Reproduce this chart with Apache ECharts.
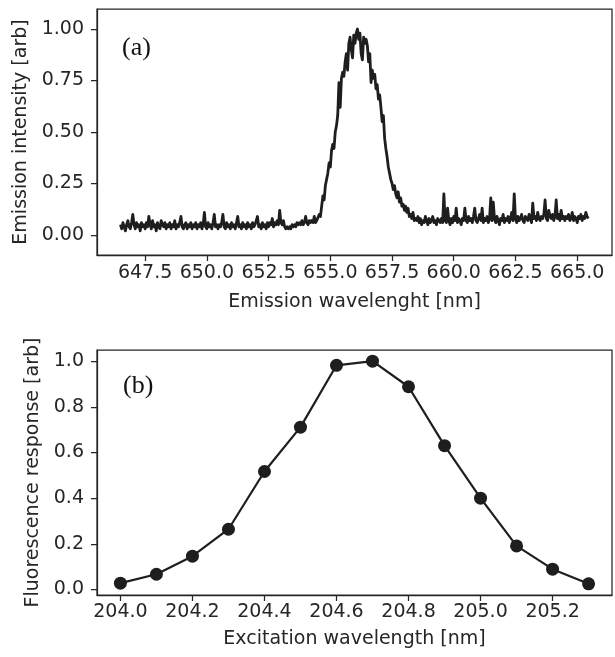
<!DOCTYPE html>
<html>
<head>
<meta charset="utf-8">
<script src="https://cdn.jsdelivr.net/npm/echarts@6/dist/echarts.min.js"></script>
<style>
html,body{margin:0;padding:0;background:#fff;}
#chart{width:615px;height:657px;}
</style>
</head>
<body>
<div id="chart"></div>
<script>
// ---- Panel (a): emission spectrum ----
const emissionStart = 646.5;   // nm, first sample
const emissionStep = 0.05;     // nm, sampling step
const emissionIntensity = [
  // 646.50 - 647.45
  0.05,0.03,0.06,0.04,0.02,0.05,0.07,0.04,0.03,0.06,0.10,0.05,0.03,0.06,0.04,0.05,0.02,0.06,0.04,0.05,
  // 647.50 - 648.45
  0.03,0.06,0.04,0.09,0.05,0.03,0.07,0.04,0.05,0.02,0.06,0.04,0.03,0.07,0.05,0.04,0.06,0.03,0.05,0.04,
  // 648.50 - 649.45
  0.06,0.03,0.05,0.04,0.07,0.03,0.05,0.04,0.06,0.09,0.04,0.03,0.05,0.06,0.03,0.05,0.04,0.06,0.03,0.05,
  // 649.50 - 650.45
  0.04,0.06,0.03,0.05,0.04,0.06,0.03,0.05,0.11,0.04,0.03,0.06,0.04,0.05,0.03,0.06,0.10,0.04,0.05,0.03,
  // 650.50 - 651.45
  0.05,0.04,0.06,0.10,0.04,0.03,0.06,0.04,0.05,0.03,0.06,0.04,0.05,0.03,0.06,0.09,0.04,0.05,0.03,0.06,
  // 651.50 - 652.45
  0.04,0.05,0.03,0.06,0.04,0.05,0.03,0.06,0.04,0.05,0.07,0.09,0.04,0.05,0.03,0.06,0.04,0.05,0.03,0.06,
  // 652.50 - 653.45
  0.04,0.06,0.05,0.08,0.04,0.06,0.05,0.07,0.05,0.12,0.06,0.05,0.07,0.04,0.03,0.04,0.03,0.04,0.03,0.05,
  // 653.50 - 654.45
  0.04,0.05,0.04,0.06,0.05,0.06,0.05,0.07,0.05,0.06,0.09,0.06,0.05,0.07,0.06,0.07,0.06,0.09,0.06,0.07,
  // 654.50 - 655.45
  0.07,0.10,0.09,0.14,0.19,0.17,0.24,0.27,0.30,0.35,0.33,0.41,0.44,0.42,0.50,0.53,0.58,0.74,0.62,0.76,
  // 655.50 - 656.45
  0.79,0.77,0.84,0.88,0.80,0.93,0.96,0.90,0.86,0.97,0.93,0.98,1.00,0.95,0.98,0.88,0.85,0.96,0.93,0.95,
  // 656.50 - 657.45
  0.92,0.84,0.88,0.74,0.80,0.76,0.78,0.71,0.73,0.66,0.68,0.62,0.55,0.58,0.47,0.42,0.38,0.33,0.30,0.27,
  // 657.50 - 658.45
  0.25,0.22,0.24,0.20,0.18,0.21,0.16,0.18,0.14,0.15,0.12,0.14,0.11,0.13,0.09,0.10,0.08,0.11,0.07,0.08,
  // 658.50 - 659.45
  0.07,0.09,0.06,0.08,0.05,0.07,0.06,0.09,0.07,0.05,0.08,0.06,0.07,0.09,0.06,0.07,0.05,0.08,0.07,0.06,
  // 659.50 - 660.45
  0.08,0.06,0.20,0.07,0.06,0.13,0.07,0.05,0.08,0.06,0.09,0.07,0.13,0.06,0.08,0.07,0.05,0.08,0.07,0.13,
  // 660.50 - 661.45
  0.07,0.06,0.09,0.07,0.08,0.06,0.09,0.13,0.07,0.06,0.08,0.10,0.07,0.13,0.06,0.08,0.07,0.09,0.06,0.08,
  // 661.50 - 662.45
  0.18,0.07,0.16,0.08,0.06,0.09,0.07,0.05,0.08,0.07,0.10,0.06,0.08,0.07,0.09,0.06,0.08,0.11,0.07,0.20,
  // 662.50 - 663.45
  0.08,0.06,0.09,0.07,0.08,0.10,0.07,0.06,0.09,0.08,0.07,0.10,0.08,0.06,0.155,0.08,0.09,0.07,0.11,0.08,
  // 663.50 - 664.45
  0.07,0.09,0.08,0.10,0.17,0.08,0.07,0.12,0.09,0.08,0.10,0.07,0.09,0.17,0.08,0.10,0.07,0.12,0.08,0.09,
  // 664.50 - 665.45
  0.07,0.09,0.08,0.10,0.07,0.08,0.11,0.07,0.09,0.08,0.06,0.09,0.08,0.10,0.07,0.09,0.08,0.11,0.09,0.08
];
const emissionXTicks = [647.5, 650.0, 652.5, 655.0, 657.5, 660.0, 662.5, 665.0];
const emissionYTicks = [0.00, 0.25, 0.50, 0.75, 1.00];

// ---- Panel (b): excitation scan ----
const excitationWavelength = [204.0, 204.1, 204.2, 204.3, 204.4, 204.5, 204.6, 204.7, 204.8, 204.9, 205.0, 205.1, 205.2, 205.3];
const fluorescenceResponse = [0.028, 0.067, 0.146, 0.264, 0.517, 0.711, 0.982, 1.000, 0.888, 0.630, 0.400, 0.191, 0.089, 0.025];
const excitationXTicks = [204.0, 204.2, 204.4, 204.6, 204.8, 205.0, 205.2];
const excitationYTicks = [0.0, 0.2, 0.4, 0.6, 0.8, 1.0];

const emissionData = emissionIntensity.map((v, i) => [emissionStart + i * emissionStep, v]);
const excitationData = excitationWavelength.map((w, i) => [w, fluorescenceResponse[i]]);

const ink = '#262626';
const lineColor = '#1e1e1e';
const sans = 'DejaVu Sans';
const labelStyle = { color: ink, fontFamily: sans, fontSize: 19 };
const nameStyle = { color: ink, fontFamily: sans, fontSize: 19 };

function xAxisCfg(grid, min, max, ticks, digits, name, gap, margin) {
  return {
    type: 'value', gridIndex: grid, min: min, max: max,
    name: name, nameLocation: 'middle', nameGap: gap, nameTextStyle: nameStyle,
    axisLine: { show: true, onZero: false, lineStyle: { color: ink, width: 1.25 } },
    axisTick: { show: true, length: 6, lineStyle: { color: ink, width: 1.25 }, customValues: ticks },
    axisLabel: Object.assign({ margin: margin, customValues: ticks, formatter: v => v.toFixed(digits) }, labelStyle),
    splitLine: { show: false }
  };
}
function yAxisCfg(grid, min, max, ticks, digits, name, gap) {
  return {
    type: 'value', gridIndex: grid, min: min, max: max,
    name: name, nameLocation: 'middle', nameGap: gap, nameTextStyle: nameStyle,
    axisLine: { show: true, onZero: false, lineStyle: { color: ink, width: 1.25 } },
    axisTick: { show: true, length: 6, lineStyle: { color: ink, width: 1.25 }, customValues: ticks },
    axisLabel: Object.assign({ margin: 13, customValues: ticks, formatter: v => v.toFixed(digits) }, labelStyle),
    splitLine: { show: false }
  };
}

const chart = echarts.init(document.getElementById('chart'), null, { renderer: 'canvas' });
chart.setOption({
  animation: false,
  backgroundColor: '#ffffff',
  grid: [
    { left: 97, top: 9, width: 515, height: 246, show: true, borderColor: ink, borderWidth: 1.25, backgroundColor: 'transparent' },
    { left: 97, top: 350, width: 515, height: 245, show: true, borderColor: ink, borderWidth: 1.25, backgroundColor: 'transparent' }
  ],
  xAxis: [
    xAxisCfg(0, 645.55, 666.41, emissionXTicks, 1, 'Emission wavelenght [nm]', 38, 9),
    xAxisCfg(1, 203.935, 205.365, excitationXTicks, 1, 'Excitation wavelength [nm]', 35, 8)
  ],
  yAxis: [
    yAxisCfg(0, -0.097, 1.097, emissionYTicks, 2, 'Emission intensity [arb]', 58),
    yAxisCfg(1, -0.024, 1.049, excitationYTicks, 1, 'Fluorescence response [arb]', 46)
  ],
  series: [
    {
      type: 'line', xAxisIndex: 0, yAxisIndex: 0, data: emissionData,
      showSymbol: false, symbol: 'none',
      lineStyle: { color: lineColor, width: 2.8, join: 'round' }
    },
    {
      type: 'line', xAxisIndex: 1, yAxisIndex: 1, data: excitationData,
      symbol: 'circle', symbolSize: 13,
      itemStyle: { color: lineColor },
      lineStyle: { color: lineColor, width: 2.2 }
    }
  ],
  graphic: [
    { type: 'text', left: 122, top: 35, style: { text: '(a)', font: '26px "Liberation Serif"', fill: '#111' } },
    { type: 'text', left: 123, top: 373, style: { text: '(b)', font: '26px "Liberation Serif"', fill: '#111' } }
  ]
});
</script>
</body>
</html>
